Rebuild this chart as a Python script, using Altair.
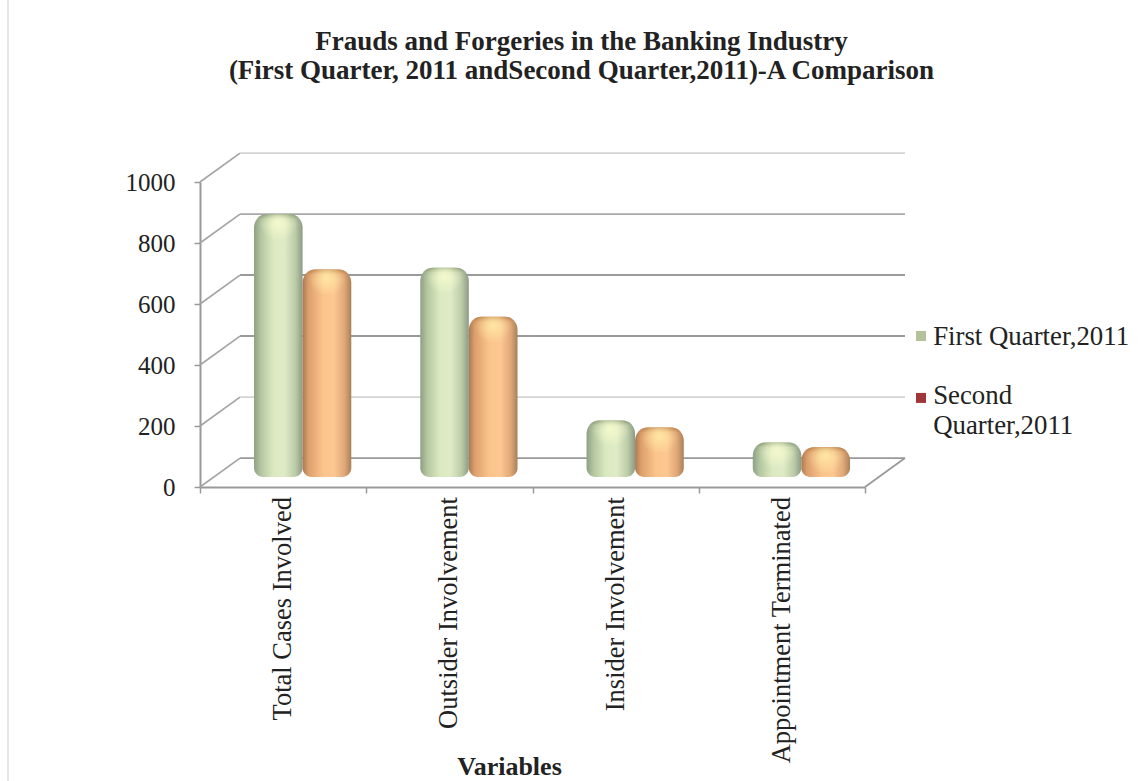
import altair as alt
import pandas as pd

# Reported fraud counts per variable and quarter
categories = ["Total Cases Involved", "Outsider Involvement", "Insider Involvement", "Appointment Terminated"]
first_quarter = [827, 652, 151, 79]
second_quarter = [646, 491, 128, 63]
tick_values = [0, 200, 400, 600, 800, 1000]
grid_shades = ["#9a9a9a", "#d4d4d4", "#9a9a9a", "#9a9a9a", "#a8a8a8", "#d4d4d4"]

SERIF = "Liberation Serif"
INK = "#222222"
AXIS = "#999999"

# Pseudo-3D box: how far the back wall is shifted from the front edge
DEPTH_X = 0.2406
DEPTH_Y = 95
BAR_DEPTH = 49      # the cylinders stand half way into the box
BASE_DROP = 16      # bottom rim below the cylinder's centre
RIM = 18            # top rim above the cylinder's centre
CAP = 80            # height of the shaded top of each cylinder
SLOTS = [(0.325, 0.617), (0.617, 0.91)]

rows = []
for i, (a, b) in enumerate(zip(first_quarter, second_quarter)):
    for s, v in enumerate((a, b)):
        rows.append({
            "series": s,
            "x0": i + SLOTS[s][0],
            "x1": i + SLOTS[s][1],
            "bottom": BAR_DEPTH - BASE_DROP,
            "top": v + BAR_DEPTH + RIM,
            "cap": v + BAR_DEPTH + RIM - CAP,
        })
bars = pd.DataFrame(rows)

walls = pd.DataFrame({
    "x0": [0.0] * len(tick_values),
    "xd": [DEPTH_X] * len(tick_values),
    "xr": [4 + DEPTH_X] * len(tick_values),
    "v": tick_values,
    "vd": [t + DEPTH_Y for t in tick_values],
    "shade": grid_shades,
})
floor_edge = pd.DataFrame({"x": [4.0], "x2": [4 + DEPTH_X], "y": [0], "y2": [DEPTH_Y]})

X = alt.Scale(domain=[0, 4], nice=False, zero=False)
Y = alt.Scale(domain=[0, 1000], nice=False, zero=False)


def gradient(stops):
    return alt.LinearGradient(
        gradient="linear", x1=0, x2=1, y1=0, y2=0,
        stops=[alt.GradientStop(offset=o, color=c) for o, c in stops],
    )


def cylinder(series, stops, rim, glow):
    data = bars[bars.series == series]
    body = alt.Chart(data).mark_bar(
        color=gradient(stops), cornerRadiusTopLeft=13, cornerRadiusTopRight=13,
        cornerRadiusBottomLeft=9, cornerRadiusBottomRight=9,
    ).encode(
        x=alt.X("x0:Q", scale=X, axis=None), x2="x1:Q",
        y=alt.Y("bottom:Q", scale=Y, axis=None), y2="top:Q",
    )
    shade = alt.Chart(data).mark_bar(
        color=alt.LinearGradient(
            gradient="linear", x1=0, x2=0, y1=0, y2=1,
            stops=[
                alt.GradientStop(offset=0, color=rim),
                alt.GradientStop(offset=0.2, color=rim.replace("0.85", "0.15")),
                alt.GradientStop(offset=0.4, color=rim.replace("0.85", "0")),
                alt.GradientStop(offset=1, color=rim.replace("0.85", "0")),
            ],
        ),
        cornerRadiusTopLeft=13, cornerRadiusTopRight=13,
    ).encode(x=alt.X("x0:Q", scale=X, axis=None), x2="x1:Q",
             y=alt.Y("cap:Q", scale=Y, axis=None), y2="top:Q")
    light = alt.Chart(data).mark_bar(
        color=alt.RadialGradient(
            gradient="radial", x1=0.5, y1=0.42, r1=0, x2=0.5, y2=0.42, r2=0.38,
            stops=[
                alt.GradientStop(offset=0, color=glow),
                alt.GradientStop(offset=1, color=glow.replace("0.95", "0")),
            ],
        ),
    ).encode(x=alt.X("x0:Q", scale=X, axis=None), x2="x1:Q",
             y=alt.Y("cap:Q", scale=Y, axis=None), y2="top:Q")
    return body + shade + light


GREEN = [(0, "#8f9f84"), (0.14, "#b4c6a0"), (0.4, "#dbe9c0"), (0.62, "#dfebc6"),
         (0.85, "#bccca8"), (1, "#8c9a86")]
ORANGE = [(0, "#a87a52"), (0.12, "#dc9f6c"), (0.42, "#fbc48c"), (0.65, "#fcc792"),
          (0.86, "#e0a878"), (1, "#a98058")]

axes = alt.Chart(pd.DataFrame({"x": [0, 4], "y": [0, 0]})).mark_point(opacity=0).encode(
    x=alt.X("x:Q", scale=X, axis=alt.Axis(
        values=[0, 1, 2, 3, 4], labels=False, grid=False, title="Variables",
        titleFont=SERIF, titleFontSize=26, titleFontWeight="bold", titleColor=INK,
        titleX=309, titleY=279, titleBaseline="middle",
        domainColor=AXIS, domainWidth=2, tickColor=AXIS, tickWidth=1.5, tickSize=6,
    )),
    y=alt.Y("y:Q", scale=Y, axis=alt.Axis(
        values=tick_values, title=None, grid=False, format="d",
        labelFont=SERIF, labelFontSize=25, labelColor=INK, labelPadding=19,
        domainColor=AXIS, domainWidth=2, tickColor=AXIS, tickWidth=1.5, tickSize=6,
    )),
)

side_wall = alt.Chart(walls).mark_rule(strokeWidth=1.6, color="#a4a4a4").encode(
    x=alt.X("x0:Q", scale=X, axis=None), x2="xd:Q",
    y=alt.Y("v:Q", scale=Y, axis=None), y2="vd:Q",
)
back_wall = alt.Chart(walls).mark_rule(strokeWidth=1.8).encode(
    x=alt.X("xd:Q", scale=X, axis=None), x2="xr:Q",
    y=alt.Y("vd:Q", scale=Y, axis=None),
    color=alt.Color("shade:N", scale=None),
)
floor_side = alt.Chart(floor_edge).mark_rule(strokeWidth=1.8, color="#9a9a9a").encode(
    x=alt.X("x:Q", scale=X, axis=None), x2="x2:Q",
    y=alt.Y("y:Q", scale=Y, axis=None), y2="y2:Q",
)

cat_labels = alt.Chart(pd.DataFrame({
    "x": [i + 0.5 for i in range(len(categories))],
    "y": [-33] * len(categories),
    "label": categories,
})).mark_text(
    angle=270, align="right", baseline="middle", font=SERIF, fontSize=26.5, color=INK,
).encode(x=alt.X("x:Q", scale=X, axis=None), y=alt.Y("y:Q", scale=Y, axis=None), text="label:N")

legend_marks = alt.Chart(pd.DataFrame({
    "x": [4.337, 4.337], "y": [495, 292], "fill": ["#b3c29a", "#a0353a"],
})).mark_square(size=100, opacity=1).encode(
    x=alt.X("x:Q", scale=X, axis=None), y=alt.Y("y:Q", scale=Y, axis=None),
    color=alt.Color("fill:N", scale=None),
)
legend_text = alt.Chart(pd.DataFrame({
    "x": [4.41, 4.41, 4.41],
    "y": [492, 298, 200],
    "label": ["First Quarter,2011", "Second", "Quarter,2011"],
})).mark_text(align="left", baseline="middle", font=SERIF, fontSize=26.8, color=INK).encode(
    x=alt.X("x:Q", scale=X, axis=None), y=alt.Y("y:Q", scale=Y, axis=None), text="label:N",
)

page_edge = alt.Chart(pd.DataFrame({"x": [-1.155], "y": [1597], "y2": [-964]})).mark_rule(
    color="#e6e6e6", strokeWidth=2,
).encode(x=alt.X("x:Q", scale=X, axis=None),
         y=alt.Y("y:Q", scale=Y, axis=None), y2="y2:Q")

chart = alt.layer(
    page_edge, axes, side_wall, back_wall, floor_side,
    cylinder(0, GREEN, "rgba(120,140,105,0.85)", "rgba(245,250,205,0.95)"),
    cylinder(1, ORANGE, "rgba(175,110,60,0.85)", "rgba(255,232,165,0.95)"),
    cat_labels, legend_marks, legend_text,
).resolve_axis(x="independent", y="independent").properties(
    width=665, height=305,
    title=alt.TitleParams(
        text=["Frauds and Forgeries in the Banking Industry",
              "(First Quarter, 2011 andSecond Quarter,2011)-A Comparison"],
        font=SERIF, fontSize=27, fontWeight="bold", color=INK, lineHeight=29,
        anchor="middle", dx=49, offset=0, dy=86,
    ),
    padding={"left": 200, "top": 182, "right": 281, "bottom": 294},
    autosize=alt.AutoSizeParams(type="none"),
    background="white",
).configure_view(stroke=None)

chart.save("out.html", embed_options={"renderer": "svg", "actions": False})
